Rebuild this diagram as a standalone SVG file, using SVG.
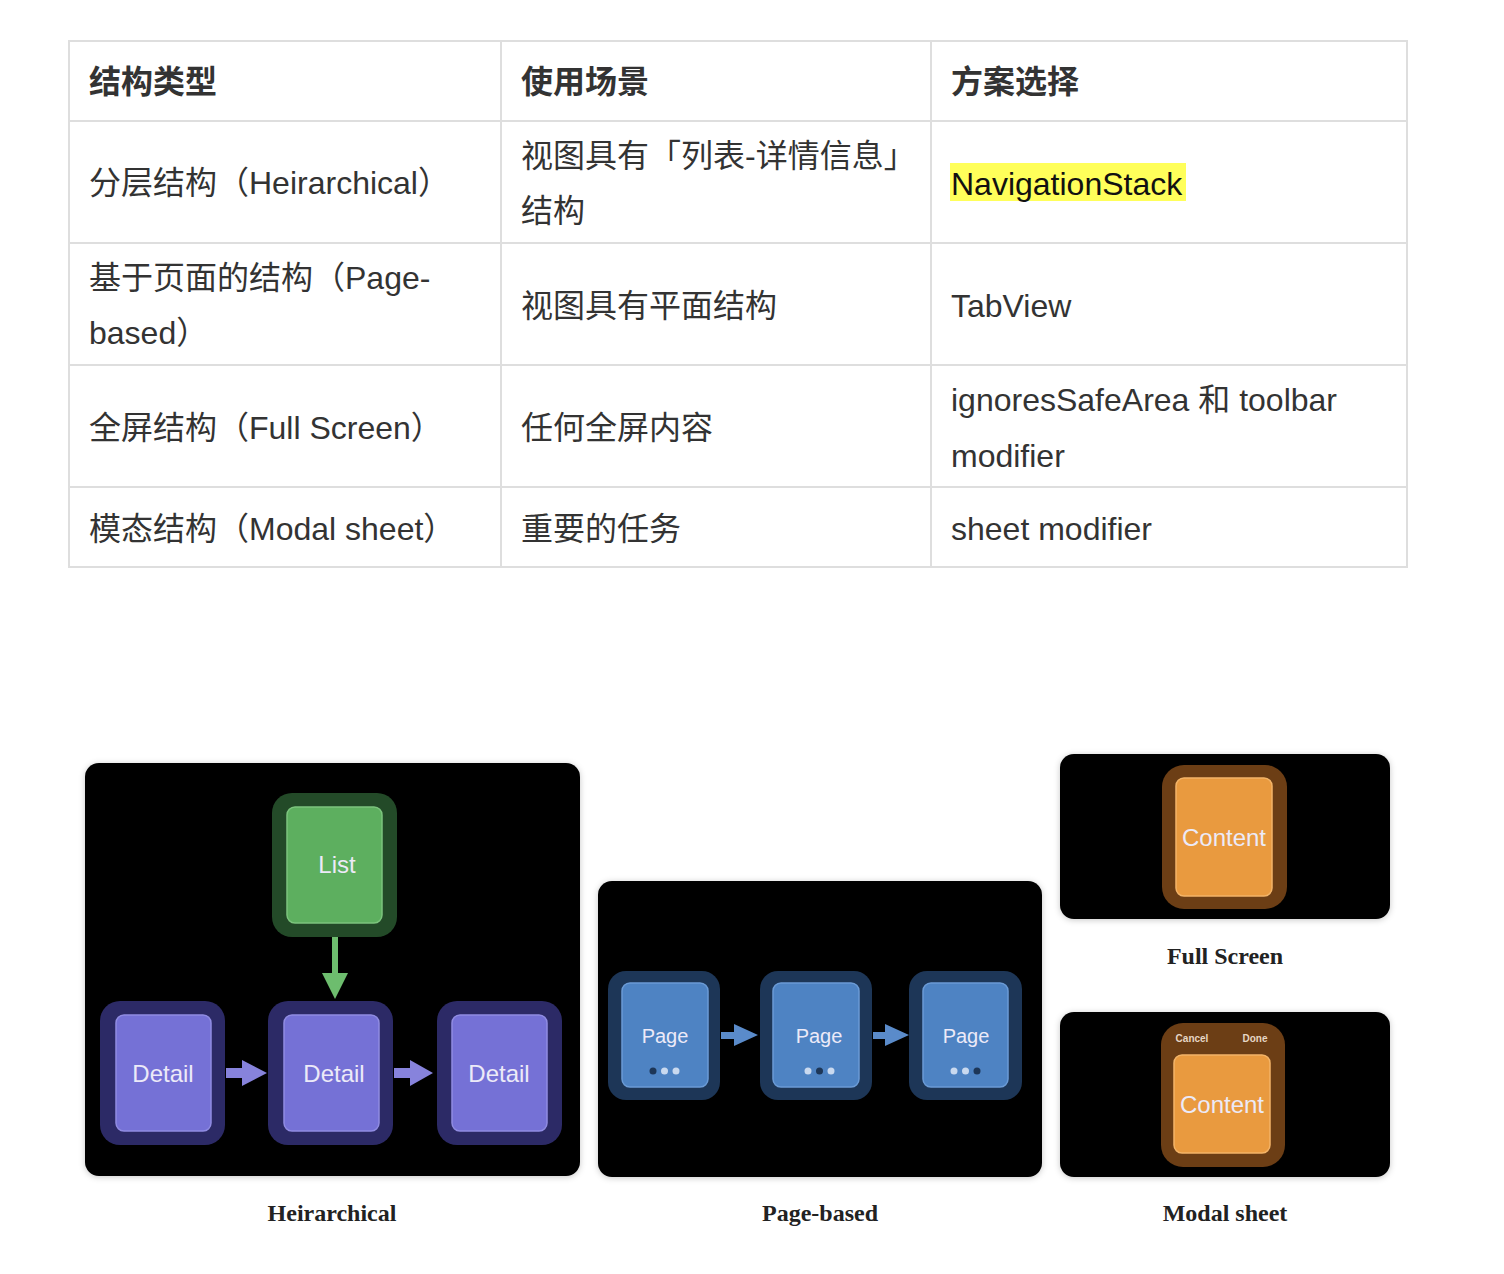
<svg xmlns="http://www.w3.org/2000/svg" width="1504" height="1274" viewBox="0 0 1504 1274">
<defs>
<style>
.t{font-family:"Liberation Sans","Noto Sans CJK SC",sans-serif;font-size:32px;fill:#333}
.th{font-weight:bold}
.grid{stroke:#dedede;stroke-width:2;fill:none}
.panel{fill:#000}
.cap{font-family:"Liberation Serif","Times New Roman",serif;font-weight:bold;font-size:24px;fill:#222;text-anchor:middle}
.lbl{font-family:"Liberation Sans","Noto Sans",sans-serif;font-size:24px;fill:#eceaf8;text-anchor:middle}
.go{fill:#234a28}.gi{fill:#5daf5f;stroke:#7cc47d;stroke-width:1.5}
.po{fill:#2c2a66}.pi{fill:#7571d6;stroke:#908ce2;stroke-width:1.5}
.bo{fill:#1d3657}.bi{fill:#4e83c3;stroke:#6b9bd6;stroke-width:1.5}
.oo{fill:#6c3e15}.oi{fill:#e99a3f;stroke:#f3b468;stroke-width:1.5}
.dl{fill:#c9d9ef}.dd{fill:#1d3657}
</style>
<filter id="sh" x="-5%" y="-5%" width="110%" height="110%">
<feDropShadow dx="0" dy="1" stdDeviation="3" flood-color="#000" flood-opacity="0.22"/>
</filter>
</defs>
<rect width="1504" height="1274" fill="#fff"/>

<g id="table">
<rect class="grid" x="69" y="41" width="1338" height="526"/>
<line class="grid" x1="501" y1="41" x2="501" y2="567"/>
<line class="grid" x1="931" y1="41" x2="931" y2="567"/>
<line class="grid" x1="69" y1="121" x2="1407" y2="121"/>
<line class="grid" x1="69" y1="243" x2="1407" y2="243"/>
<line class="grid" x1="69" y1="365" x2="1407" y2="365"/>
<line class="grid" x1="69" y1="487" x2="1407" y2="487"/>
<text class="t th" x="89" y="93">结构类型</text>
<text class="t th" x="521" y="93">使用场景</text>
<text class="t th" x="951" y="93">方案选择</text>
<text class="t" x="89" y="194">分层结构（Heirarchical）</text>
<text class="t" x="521" y="167">视图具有「列表-详情信息」</text>
<text class="t" x="521" y="222">结构</text>
<rect x="950" y="163" width="236" height="38" fill="#ffff5a"/>
<text class="t" x="951" y="195" style="fill:#111">NavigationStack</text>
<text class="t" x="89" y="289">基于页面的结构（Page-</text>
<text class="t" x="89" y="344">based）</text>
<text class="t" x="521" y="317">视图具有平面结构</text>
<text class="t" x="951" y="317">TabView</text>
<text class="t" x="89" y="439">全屏结构（Full Screen）</text>
<text class="t" x="521" y="439">任何全屏内容</text>
<text class="t" x="951" y="411">ignoresSafeArea 和 toolbar</text>
<text class="t" x="951" y="467">modifier</text>
<text class="t" x="89" y="540">模态结构（Modal sheet）</text>
<text class="t" x="521" y="540">重要的任务</text>
<text class="t" x="951" y="540">sheet modifier</text>
</g>

<g id="panel-hierarchical">
<rect class="panel" x="85" y="763" width="495" height="413" rx="14" filter="url(#sh)"/>
</g>
<g id="node-list">
<rect class="go" x="272" y="793" width="125" height="144" rx="20"/>
<rect class="gi" x="287" y="807" width="95" height="116" rx="8"/>
<text class="lbl" x="337" y="873">List</text>
</g>
<g id="node-detail1">
<rect class="po" x="100" y="1001" width="125" height="144" rx="20"/>
<rect class="pi" x="116" y="1015" width="95" height="116" rx="8"/>
<text class="lbl" x="163" y="1082">Detail</text>
</g>
<g id="node-detail2">
<rect class="po" x="268" y="1001" width="125" height="144" rx="20"/>
<rect class="pi" x="284" y="1015" width="95" height="116" rx="8"/>
<text class="lbl" x="334" y="1082">Detail</text>
</g>
<g id="node-detail3">
<rect class="po" x="437" y="1001" width="125" height="144" rx="20"/>
<rect class="pi" x="452" y="1015" width="95" height="116" rx="8"/>
<text class="lbl" x="499" y="1082">Detail</text>
</g>

<g id="panel-page">
<rect class="panel" x="598" y="881" width="444" height="296" rx="14" filter="url(#sh)"/>
</g>
<g id="node-page1">
<rect class="bo" x="608" y="971" width="112" height="129" rx="18"/>
<rect class="bi" x="622" y="983" width="86" height="104" rx="8"/>
<text class="lbl" x="665" y="1043" style="font-size:20px">Page</text>
<circle class="dd" cx="653" cy="1071" r="3.5"/><circle class="dl" cx="664.5" cy="1071" r="3.5"/><circle class="dl" cx="676" cy="1071" r="3.5"/>
</g>
<g id="node-page2">
<rect class="bo" x="760" y="971" width="112" height="129" rx="18"/>
<rect class="bi" x="773" y="983" width="86" height="104" rx="8"/>
<text class="lbl" x="819" y="1043" style="font-size:20px">Page</text>
<circle class="dl" cx="808" cy="1071" r="3.5"/><circle class="dd" cx="819.5" cy="1071" r="3.5"/><circle class="dl" cx="831" cy="1071" r="3.5"/>
</g>
<g id="node-page3">
<rect class="bo" x="909" y="971" width="113" height="129" rx="18"/>
<rect class="bi" x="923" y="983" width="85" height="104" rx="8"/>
<text class="lbl" x="966" y="1043" style="font-size:20px">Page</text>
<circle class="dl" cx="954" cy="1071" r="3.5"/><circle class="dl" cx="965.5" cy="1071" r="3.5"/><circle class="dd" cx="977" cy="1071" r="3.5"/>
</g>

<g id="panel-fullscreen">
<rect class="panel" x="1060" y="754" width="330" height="165" rx="14" filter="url(#sh)"/>
</g>
<g id="node-content-full">
<rect class="oo" x="1162" y="765" width="125" height="144" rx="22"/>
<rect class="oi" x="1176" y="778" width="96" height="118" rx="8"/>
<text class="lbl" x="1224" y="846">Content</text>
</g>

<g id="panel-modal">
<rect class="panel" x="1060" y="1012" width="330" height="165" rx="14" filter="url(#sh)"/>
</g>
<g id="node-content-modal">
<rect class="oo" x="1161" y="1023" width="124" height="144" rx="22"/>
<text x="1192" y="1042" style="font-family:'Liberation Sans',sans-serif;font-size:10px;font-weight:bold;fill:#e6d6c4;text-anchor:middle">Cancel</text>
<text x="1255" y="1042" style="font-family:'Liberation Sans',sans-serif;font-size:10px;font-weight:bold;fill:#e6d6c4;text-anchor:middle">Done</text>
<rect class="oi" x="1174" y="1055" width="96" height="98" rx="8"/>
<text class="lbl" x="1222" y="1113">Content</text>
</g>

<g id="connectors">
<polygon points="332,937 338,937 338,973 348,973 335,999 322,973 332,973" fill="#6dbd6e"/>
<polygon points="226,1068 242,1068 242,1060 267,1073 242,1086 242,1078 226,1078" fill="#8783dc"/>
<polygon points="394,1068 410,1068 410,1060 433,1073 410,1086 410,1078 394,1078" fill="#8783dc"/>
<polygon points="721,1032 734,1032 734,1024 758,1035 734,1046 734,1039 721,1039" fill="#5a8bca"/>
<polygon points="873,1032 885,1032 885,1024 909,1035 885,1046 885,1039 873,1039" fill="#5a8bca"/>
</g>

<g id="captions">
<text class="cap" x="332" y="1221">Heirarchical</text>
<text class="cap" x="820" y="1221">Page-based</text>
<text class="cap" x="1225" y="1221">Modal sheet</text>
<text class="cap" x="1225" y="964">Full Screen</text>
</g>
</svg>
